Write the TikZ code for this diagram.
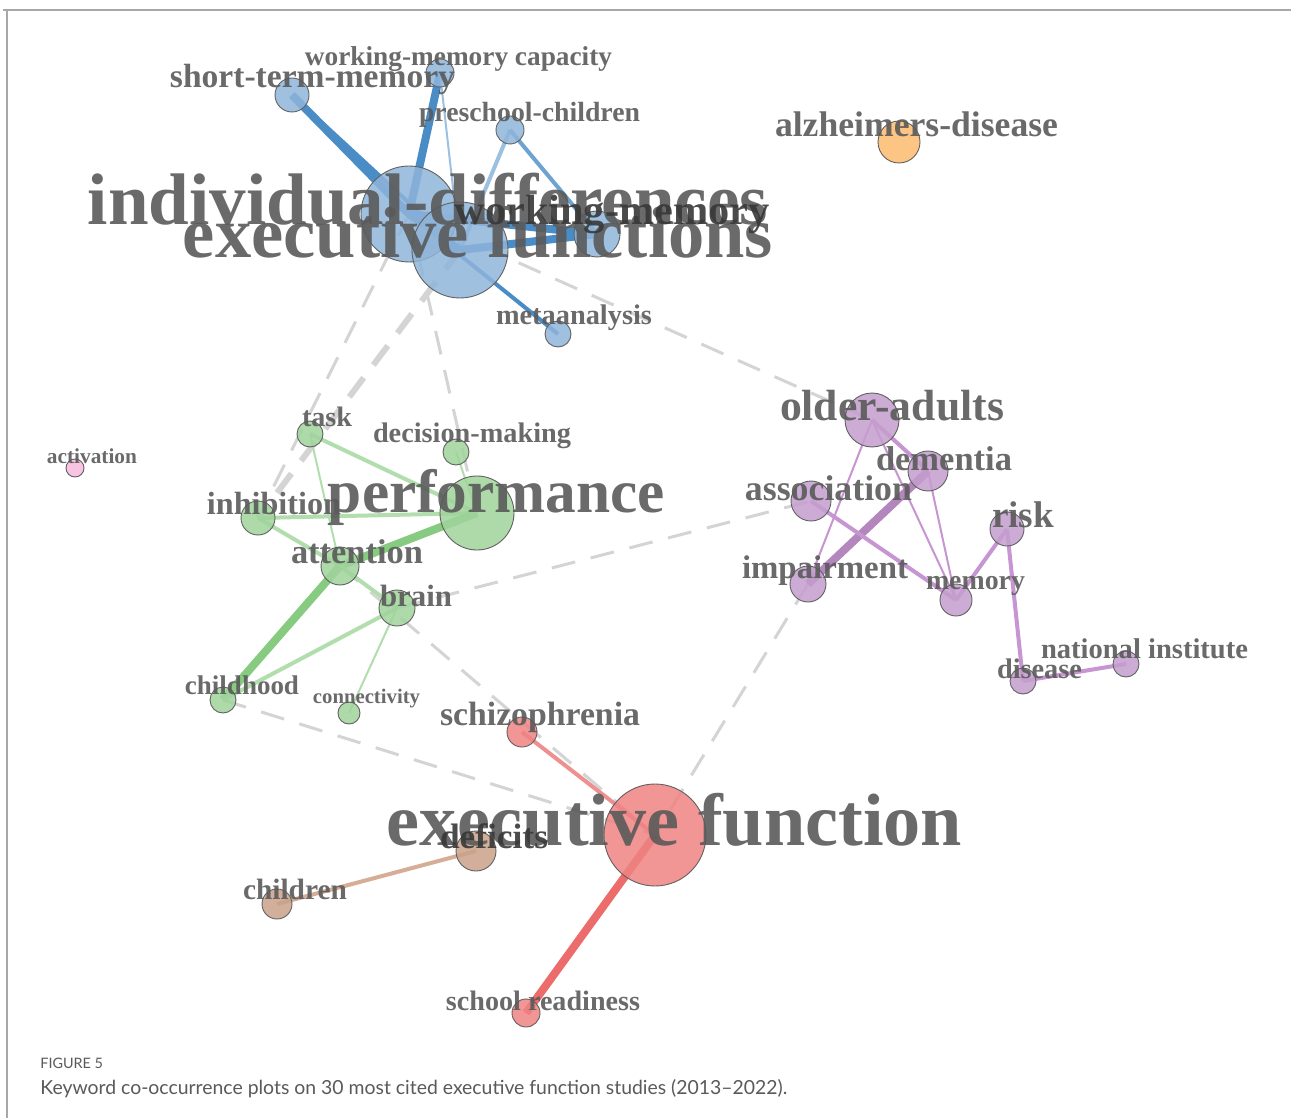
\documentclass[tikz,border=0pt]{standalone}
\usepackage{fontspec}
\setmainfont{Liberation Serif}
\newfontfamily\capfont{Lato}
\usepackage{graphicx}
\pgfdeclarelayer{bglayer}
\pgfdeclarelayer{edgelayer}
\pgfdeclarelayer{labellayer}
\pgfsetlayers{bglayer,edgelayer,main,labellayer}
\definecolor{bfill}{HTML}{8FB5DA}
\definecolor{bedge}{HTML}{4A8CC6}
\definecolor{bedgel}{HTML}{9CC0E0}
\definecolor{gfill}{HTML}{A0D49C}
\definecolor{gedge}{HTML}{86CB80}
\definecolor{gedgel}{HTML}{B2DEAE}
\definecolor{pfill}{HTML}{C49ECE}
\definecolor{pedge}{HTML}{C795D2}
\definecolor{rfill}{HTML}{EF8383}
\definecolor{redge}{HTML}{EC6B6B}
\definecolor{redgel}{HTML}{EE9090}
\definecolor{brfill}{HTML}{C9A289}
\definecolor{bredge}{HTML}{D6AE98}
\definecolor{ofill}{HTML}{FDBB6E}
\definecolor{pkfill}{HTML}{F8BADC}
\definecolor{grayedge}{HTML}{D4D4D4}
\definecolor{labgray}{HTML}{5A5A5A}
\definecolor{capgray}{HTML}{5A5A5A}
\definecolor{framegray}{HTML}{A8A8A8}
\newcommand{\kwtxt}[2]{\resizebox{#1pt}{!}{#2}}
\tikzset{
  x=0.5pt, y=-0.5pt,
  kwnode/.style={circle, inner sep=0pt, draw=black!62, line width=0.45pt, fill opacity=0.85, minimum size=#1pt},
  bnode/.style={kwnode=#1, fill=bfill},
  gnode/.style={kwnode=#1, fill=gfill},
  pnode/.style={kwnode=#1, fill=pfill},
  rnode/.style={kwnode=#1, fill=rfill},
  brnode/.style={kwnode=#1, fill=brfill},
  onode/.style={kwnode=#1, fill=ofill},
  pknode/.style={kwnode=#1, fill=pkfill},
  lab/.style={text=labgray, text opacity=0.9, font=\bfseries, inner sep=0pt, anchor=base},
  darklab/.style={lab, text=black!78},
  thick edge/.style={line width=4pt},
  mid edge/.style={line width=2pt},
  thin edge/.style={line width=1pt},
  gdash/.style={draw=grayedge, line width=#1, dash pattern=on 12pt off 8pt},
}
\begin{document}
\begin{tikzpicture}
\useasboundingbox (0,0) rectangle (1291,1118);
\begin{pgfonlayer}{bglayer}
\fill[white] (0,0) rectangle (1291,1118);
\end{pgfonlayer}
% frame
\draw[framegray, line width=1pt] (3,10) -- (1291,10);
\draw[framegray, line width=0.8pt] (7,10) -- (7,1118);

% ---------- nodes ----------
\node[bnode=17] (stm) at (292,95) {};
\node[bnode=14] (wmc) at (440,73) {};
\node[bnode=14] (pre) at (510,130) {};
\node[bnode=48] (idd) at (409,214) {};
\node[bnode=48] (efs) at (460,250) {};
\node[bnode=23] (wm) at (597,234) {};
\node[bnode=13] (meta) at (558,334) {};
\node[onode=21] (alz) at (899,142) {};
\node[pknode=9] (act) at (75,468) {};
\node[gnode=13] (task) at (310,434) {};
\node[gnode=13] (dec) at (456,452) {};
\node[gnode=17] (inh) at (258,518) {};
\node[gnode=37] (perf) at (477,513) {};
\node[gnode=19] (att) at (340,566) {};
\node[gnode=18] (brain) at (397,608) {};
\node[gnode=13] (child) at (223,700) {};
\node[gnode=11] (conn) at (349,713) {};
\node[pnode=27] (old) at (872,420) {};
\node[pnode=20] (dem) at (928,471) {};
\node[pnode=20] (assoc) at (811,501) {};
\node[pnode=17] (risk) at (1007,529) {};
\node[pnode=18] (imp) at (808,584) {};
\node[pnode=16] (mem) at (956,600) {};
\node[pnode=13] (dis) at (1023,681) {};
\node[pnode=13] (nat) at (1126,664) {};
\node[rnode=51] (ef) at (655,835) {};
\node[rnode=15] (schiz) at (522,732) {};
\node[rnode=14] (school) at (526,1013) {};
\node[brnode=20] (def) at (476,851) {};
\node[brnode=15] (chn) at (277,904) {};

% ---------- labels ----------
\begin{pgfonlayer}{labellayer}
\node[lab] (l-stm) at (312.5,88) {\kwtxt{142.5}{short-term-memory}};
\node[lab] (l-wmc) at (458.5,66) {\kwtxt{153.5}{working-memory capacity}};
\node[lab] (l-pre) at (529.5,122) {\kwtxt{110.5}{preschool-children}};
\node[lab] (l-alz) at (916.5,137) {\kwtxt{141.5}{alzheimers-disease}};
\node[lab] (l-idd) at (428,225) {\kwtxt{340}{individual-differences}};
\node[lab] (l-efs) at (478,258) {\kwtxt{295}{executive functions}};
\node[darklab] (l-wm) at (612,225) {\kwtxt{157.5}{working-memory}};
\node[lab] (l-meta) at (574,325) {\kwtxt{78}{metaanalysis}};
\node[lab] (l-old) at (892,420) {\kwtxt{112}{older-adults}};
\node[lab] (l-task) at (327,426) {\kwtxt{25}{task}};
\node[lab] (l-dec) at (472,442) {\kwtxt{99}{decision-making}};
\node[lab] (l-act) at (92,463) {\kwtxt{45}{activation}};
\node[lab] (l-dem) at (944,470) {\kwtxt{68}{dementia}};
\node[lab] (l-assoc) at (828.5,500) {\kwtxt{83.5}{association}};
\node[lab] (l-perf) at (496.5,512) {\kwtxt{168.5}{performance}};
\node[lab] (l-inh) at (274,515) {\kwtxt{67}{inhibition}};
\node[lab] (l-risk) at (1023,527) {\kwtxt{31}{risk}};
\node[lab] (l-att) at (357,563) {\kwtxt{66}{attention}};
\node[lab] (l-imp) at (825,578) {\kwtxt{83}{impairment}};
\node[lab] (l-mem) at (975.5,589) {\kwtxt{49.5}{memory}};
\node[lab] (l-brain) at (416,606) {\kwtxt{36}{brain}};
\node[lab] (l-nat) at (1144.5,658) {\kwtxt{103.5}{national institute}};
\node[lab] (l-dis) at (1039.5,678) {\kwtxt{42.5}{disease}};
\node[lab] (l-child) at (242,694) {\kwtxt{57}{childhood}};
\node[lab] (l-conn) at (366.5,703) {\kwtxt{53.5}{connectivity}};
\node[lab] (l-schiz) at (540,725) {\kwtxt{100}{schizophrenia}};
\node[lab] (l-ef) at (674.5,845) {\kwtxt{287.5}{executive function}};
\node[darklab] (l-def) at (494,848) {\kwtxt{54}{deficits}};
\node[lab] (l-chn) at (295,899) {\kwtxt{52}{children}};
\node[lab] (l-school) at (543,1010) {\kwtxt{97}{school readiness}};
\end{pgfonlayer}

% ---------- edges ----------
\begin{pgfonlayer}{edgelayer}
% inter-cluster (gray dashed)
\draw[gdash=1.5pt] (idd.center) -- (old.center);
\draw[gdash=1.5pt] (idd.center) -- (inh.center);
\draw[gdash=3pt] (efs.center) -- (inh.center);
\draw[gdash=1.5pt] (idd.center) -- (perf.center);
\draw[gdash=1.5pt] (brain.center) -- (assoc.center);
\draw[gdash=1.5pt] (att.center) -- (ef.center);
\draw[gdash=1.5pt] (child.center) -- (ef.center);
\draw[gdash=1.5pt] (imp.center) -- (ef.center);
% blue cluster
\draw[bedge, thick edge] (stm.center) -- (idd.center);
\draw[bedge, mid edge] (stm.center) -- (efs.center);
\draw[bedge, thick edge] (wmc.center) -- (idd.center);
\draw[bedgel, thin edge] (wmc.center) -- (efs.center);
\draw[bedgel, mid edge] (pre.center) -- (efs.center);
\draw[bedge!80, mid edge] (pre.center) -- (wm.center);
\draw[bedge, thick edge] (idd.center) -- (wm.center);
\draw[bedge, thick edge] (efs.center) -- (wm.center);
\draw[bedge, thick edge] (idd.center) -- (efs.center);
\draw[bedge, mid edge] (idd.center) -- (meta.center);
% green cluster
\draw[gedgel, mid edge] (task.center) -- (perf.center);
\draw[gedgel, thin edge] (task.center) -- (att.center);
\draw[gedgel, mid edge] (inh.center) -- (perf.center);
\draw[gedgel, mid edge] (inh.center) -- (att.center);
\draw[gedge, thick edge] (att.center) -- (perf.center);
\draw[gedgel, thin edge] (dec.center) -- (perf.center);
\draw[gedgel, mid edge] (att.center) -- (brain.center);
\draw[gedge, thick edge] (att.center) -- (child.center);
\draw[gedgel, mid edge] (brain.center) -- (child.center);
\draw[gedgel, thin edge] (brain.center) -- (conn.center);
% purple cluster
\draw[pedge, mid edge] (old.center) -- (dem.center);
\draw[pedge, thin edge] (old.center) -- (imp.center);
\draw[pedge, thin edge] (old.center) -- (mem.center);
\draw[pedge, thin edge] (dem.center) -- (mem.center);
\draw[pedge!90!black, thick edge] (dem.center) -- (imp.center);
\draw[pedge, mid edge] (assoc.center) -- (mem.center);
\draw[pedge, mid edge] (risk.center) -- (mem.center);
\draw[pedge, mid edge] (risk.center) -- (dis.center);
\draw[pedge, mid edge] (dis.center) -- (nat.center);
% red / brown
\draw[redgel, mid edge] (ef.center) -- (schiz.center);
\draw[redge, thick edge] (ef.center) -- (school.center);
\draw[bredge, mid edge] (def.center) -- (chn.center);
\end{pgfonlayer}

% ---------- caption ----------
\node[anchor=base west, inner sep=0pt, text=capgray, font=\capfont\fontsize{7.2pt}{8pt}\selectfont] (figno) at (40,1068) {FIGURE 5};
\node[anchor=base west, inner sep=0pt, text=capgray, font=\capfont\fontsize{9.7pt}{11pt}\selectfont] (caption) at (40,1094) {Keyword co-occurrence plots on 30 most cited executive function studies (2013–2022).};
\end{tikzpicture}
\end{document}
